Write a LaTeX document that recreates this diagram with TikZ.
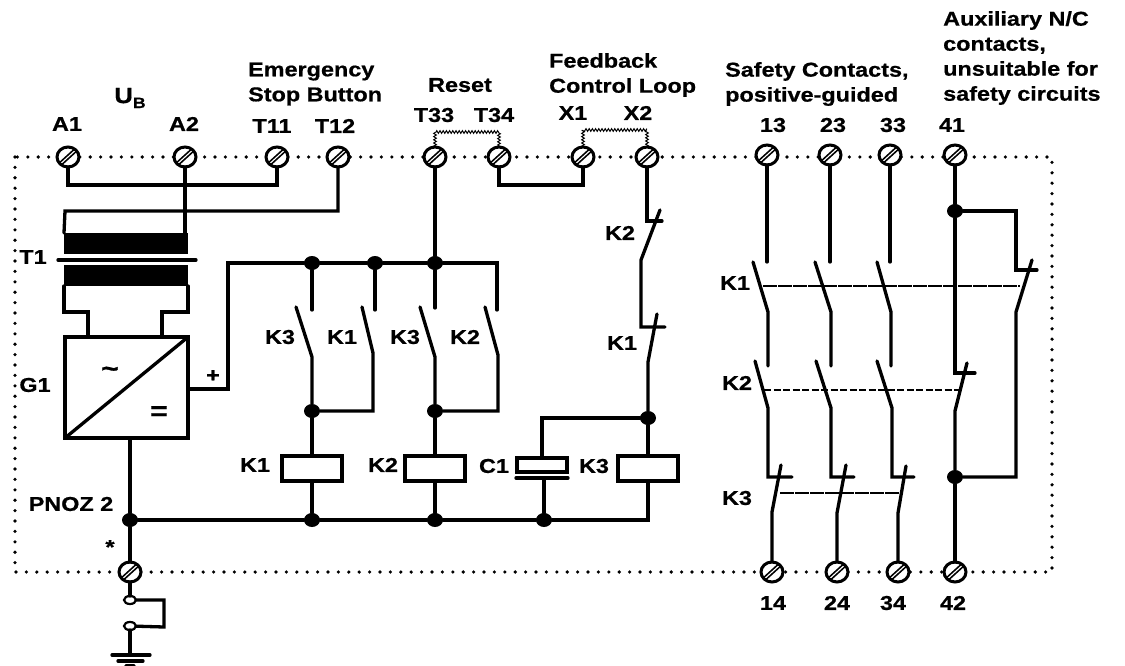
\documentclass[tikz,border=0pt]{standalone}
\usepackage{fontspec}
\setmainfont[FakeStretch=1.17,BoldFeatures={FakeBold=0.7}]{Liberation Sans}
\usepackage{tikz}
\usetikzlibrary{decorations.pathmorphing,shapes.geometric}
\tikzset{
    wire/.style={line width=3.3pt,line cap=round},
    terminal/.style={draw,
        ellipse,
        fill=white,
        line width=3pt,
        inner sep=0pt,
        outer sep=0pt,
        minimum width=22pt,
        minimum height=20pt,
        path picture={\draw[line width=1.7pt,double=white,double distance=1.1pt] (path picture bounding box.south west) -- (path picture bounding box.north east);}},
    junction/.style={ellipse,
        fill=black,
        inner sep=0pt,
        outer sep=0pt,
        minimum width=16pt,
        minimum height=14pt},
    eyelet/.style={draw,
        ellipse,
        line width=2.2pt,
        fill=white,
        inner sep=0pt,
        outer sep=0pt,
        minimum width=12pt,
        minimum height=8pt},
    coil/.style={draw,
        fill=white,
        line width=3.3pt,
        inner sep=0pt,
        outer sep=0pt,
        minimum width=60pt,
        minimum height=25pt},
    winding/.style={fill=black,
        inner sep=0pt,
        outer sep=0pt,
        minimum width=124pt,
        minimum height=21pt},
    lbl/.style={font=\bfseries\fontsize{20}{25}\selectfont,
        inner sep=0pt,
        align=left},
    border/.style={line width=3.6pt,
        line cap=round,
        dash pattern=on 0pt off 10.4pt},
    jumper/.style={line width=1pt,
        decorate,
        decoration={zigzag,amplitude=1.3pt,segment length=3.2pt}},
    link/.style={line width=1.2pt,dash pattern=on 14pt off 1pt},
    linkdash/.style={line width=1.8pt,dash pattern=on 7pt off 2.5pt}
}
\begin{document}
\begin{tikzpicture}[x=1pt,y=-1pt]
    \useasboundingbox (0,0) rectangle (1125,666);
    % Housing
    \draw [border] (15,157) rectangle (1052,572);
    % Top terminals
    \node [terminal] (A1) at (68,157) {};
    \node [terminal] (A2) at (185,157) {};
    \node [terminal] (T11) at (277,157) {};
    \node [terminal] (T12) at (338,157) {};
    \node [terminal] (T33) at (435,157) {};
    \node [terminal] (T34) at (499,157) {};
    \node [terminal] (X1) at (583,157) {};
    \node [terminal] (X2) at (647,157) {};
    \node [terminal] (t13) at (767,155) {};
    \node [terminal] (t23) at (830,155) {};
    \node [terminal] (t33) at (890,155) {};
    \node [terminal] (t41) at (955,155) {};
    % Bottom terminals
    \node [terminal] (PE) at (130,572) {};
    \node [terminal] (t14) at (772,572) {};
    \node [terminal] (t24) at (837,572) {};
    \node [terminal] (t34) at (898,572) {};
    \node [terminal] (t42) at (955,572) {};
    % Transformer
    \node [winding] (Tup) at (126,243.5) {};
    \node [winding] (Tlow) at (126,275.5) {};
    \coordinate (coreL) at (58,260);
    \coordinate (coreR) at (196,260);
    \draw [wire] (coreL) -- (coreR);
    % Rectifier
    \node [draw,
        fill=white,
        line width=3.3pt,
        inner sep=0pt,
        outer sep=0pt,
        minimum width=123pt,
        minimum height=101pt] (G1) at (126.5,387.5) {};
    \draw [wire] (G1.south west) -- (G1.north east);
    \node [font=\bfseries\fontsize{26}{26}\selectfont] (ac) at (110,372) {\char"7E};
    \node [font=\bfseries\fontsize{26}{26}\selectfont] (dc) at (159,413) {=};
    \node [lbl] (plus) at (213,376) {+};
    % Supply wires
    \draw [wire] (A1) |- (277,185) -- (T11);
    \draw [wire] (A2) -- (A2 |- Tup.north);
    \draw [wire] (T12) |- (65,211) -- (Tup.north west);
    \draw [wire] (Tlow.south west) -- ++(0,26) -| (88,337);
    \draw [wire] (Tlow.south east) -- ++(0,26) -| (162,337);
    % Bus junctions
    \node [junction] (j1) at (312,263) {};
    \node [junction] (j2) at (375,263) {};
    \node [junction] (j3) at (435,263) {};
    \node [junction] (j4) at (312,411) {};
    \node [junction] (j5) at (435,411) {};
    \node [junction] (j6) at (648,418) {};
    \node [junction] (j7) at (130,520) {};
    \node [junction] (j8) at (312,520) {};
    \node [junction] (j9) at (435,520) {};
    \node [junction] (j10) at (544,520) {};
    \coordinate (busEnd) at (497,263);
    \draw [wire] (G1.east |- 0,389) -| (228,263) -- (j1);
    \draw [wire] (j1) -- (j2);
    \draw [wire] (j2) -- (j3);
    \draw [wire] (j3) -- (busEnd) -- ++(0,47);
    \draw [wire] (T33) -- (j3);
    \draw [wire] (j1) -- ++(0,47);
    \draw [wire] (j2) -- ++(0,47);
    \draw [wire] (j3) -- ++(0,45);
    % Coils
    \node [coil] (K1) at (312,468.5) {};
    \node [coil] (K2) at (435,468.5) {};
    \node [coil] (K3) at (648,468.5) {};
    % Capacitor
    \node [draw,
        line width=3.3pt,
        inner sep=0pt,
        outer sep=0pt,
        minimum width=50pt,
        minimum height=14pt] (C1) at (542,465) {};
    \coordinate (plateL) at (516,478);
    \coordinate (plateR) at (568,478);
    \draw [wire] (plateL) -- (plateR);
    % Contacts in the control circuit
    \coordinate (a1) at (296,307);
    \coordinate (b1) at (312,357);
    \coordinate (a2) at (362,307);
    \coordinate (b2) at (373,353);
    \coordinate (a3) at (420,307);
    \coordinate (b3) at (435,357);
    \coordinate (a4) at (485,307);
    \coordinate (b4) at (498,355);
    \draw [wire] (a1) -- (b1) -- (j4);
    \draw [wire] (a2) -- (b2) |- (j4);
    \draw [wire] (a3) -- (b3) -- (j5);
    \draw [wire] (a4) -- (b4) |- (j5);
    \draw [wire] (j4) -- (K1.north);
    \draw [wire] (j5) -- (K2.north);
    \draw [wire] (K1.south) -- (j8);
    \draw [wire] (K2.south) -- (j9);
    % Bottom rail
    \draw [wire] (G1.south -| 130,0) -- (j7);
    \draw [wire] (j7) -- (j8);
    \draw [wire] (j8) -- (j9);
    \draw [wire] (j9) -- (j10);
    \draw [wire] (j10) -| (K3.south);
    \draw [wire] (plateL -| j10) -- (j10);
    \draw [wire] (j6) -- (K3.north);
    \draw [wire] (j6) -| (C1.north);
    % Feedback loop
    \coordinate (a5) at (660,210);
    \coordinate (b5) at (641,260);
    \coordinate (a6) at (657,314);
    \coordinate (b6) at (648,362);
    \draw [wire] (T34) |- (583,185) -- (X1);
    \draw [wire] (X2) |- (662,221);
    \draw [wire] (a5) -- (b5) |- (665,327);
    \draw [wire] (a6) -- (b6) -- (j6);
    % Links
    \draw [jumper] (T33) -- ++(0,-25) -| (T34);
    \draw [jumper] (X1) -- ++(0,-27) -| (X2);
    % Earth
    \node [eyelet] (e1) at (130,600) {};
    \node [eyelet] (e2) at (130,626) {};
    \coordinate (gnd) at (130,655);
    \draw [wire] (PE) -- (j7);
    \draw [wire] (PE) -- (e1);
    \draw [wire] (e1) -| (164,627) -- (e2);
    \draw [wire] (e2) -- (gnd);
    \draw [wire] (112,655) -- (150,655);
    \draw [wire] (118,661) -- (143,661);
    \draw [wire] (126,665.5) -- (134,665.5);
    % Safety contacts
    \coordinate (s1) at (753,262);
    \coordinate (p1) at (768,312);
    \coordinate (q1) at (768,366);
    \coordinate (s2) at (815,262);
    \coordinate (p2) at (831,312);
    \coordinate (q2) at (831,366);
    \coordinate (s3) at (877,262);
    \coordinate (p3) at (891,312);
    \coordinate (q3) at (891,366);
    \coordinate (u1) at (755,361);
    \coordinate (v1) at (768,408);
    \coordinate (u2) at (816,361);
    \coordinate (v2) at (831,408);
    \coordinate (u3) at (877,361);
    \coordinate (v3) at (892,408);
    \coordinate (w1) at (781,465);
    \coordinate (z1) at (772,512);
    \coordinate (w2) at (846,465);
    \coordinate (z2) at (837,513);
    \coordinate (w3) at (906,466);
    \coordinate (z3) at (898,513);
    \draw [wire] (t13) -- (767,262);
    \draw [wire] (t23) -- (830,262);
    \draw [wire] (t33) -- (890,262);
    \draw [wire] (s1) -- (p1) -- (q1);
    \draw [wire] (s2) -- (p2) -- (q2);
    \draw [wire] (s3) -- (p3) -- (q3);
    \draw [wire] (u1) -- (v1) |- (792,477);
    \draw [wire] (u2) -- (v2) |- (854,477);
    \draw [wire] (u3) -- (v3) |- (914,477);
    \draw [wire] (w1) -- (z1) -- (t14);
    \draw [wire] (w2) -- (z2) -- (t24);
    \draw [wire] (w3) -- (z3) -- (t34);
    % Auxiliary contacts
    \node [junction] (j11) at (955,211) {};
    \node [junction] (j12) at (955,477) {};
    \coordinate (m1) at (1032,260);
    \coordinate (n1) at (1016,312);
    \coordinate (m2) at (967,363);
    \coordinate (n2) at (955,411);
    \draw [wire] (t41) -- (j11);
    \draw [wire] (j11) |- (975,373);
    \draw [wire] (m2) -- (n2) -- (j12);
    \draw [wire] (j12) -- (t42);
    \draw [wire] (j11) -| (1016,270) -- (1037,270);
    \draw [wire] (m1) -- (n1) |- (j12);
    % Positive guidance
    \draw [link] (763,286) -- (1020,286);
    \draw [linkdash] (764,390) -- (960,390);
    \draw [link] (780,493) -- (900,493);
    % Terminal labels
    \node [lbl] (lA1) at (67,124) {A1};
    \node [lbl] (lA2) at (184,124) {A2};
    \node [lbl] (lT11) at (272,126) {T11};
    \node [lbl] (lT12) at (335,126) {T12};
    \node [lbl] (lT33) at (434,115) {T33};
    \node [lbl] (lT34) at (494,115) {T34};
    \node [lbl] (lX1) at (573,113) {X1};
    \node [lbl] (lX2) at (638,113) {X2};
    \node [lbl] (l13) at (773,125) {13};
    \node [lbl] (l23) at (833,125) {23};
    \node [lbl] (l33) at (893,125) {33};
    \node [lbl] (l41) at (952,125) {41};
    \node [lbl] (l14) at (773,603) {14};
    \node [lbl] (l24) at (837,603) {24};
    \node [lbl] (l34) at (893,603) {34};
    \node [lbl] (l42) at (953,603) {42};
    % Group labels
    \node [lbl] (lUB) at (130,98) {\fontsize{22}{22}\selectfont U\raisebox{-5pt}{\fontsize{15}{15}\selectfont B}};
    \node [lbl,anchor=west] (lStop) at (248,84) {Emergency\\Stop Button};
    \node [lbl] (lReset) at (460,85) {Reset};
    \node [lbl,anchor=west] (lLoop) at (549,75) {Feedback\\Control Loop};
    \node [lbl,anchor=west] (lSafe) at (725,84) {Safety Contacts,\\positive-guided};
    \node [lbl,anchor=west] (lAux) at (943,58) {Auxiliary N/C\\contacts,\\unsuitable for\\safety circuits};
    % Part labels
    \node [lbl] (lT1) at (33,257) {T1};
    \node [lbl] (lG1) at (35,385) {G1};
    \node [lbl] (lPNOZ) at (71,504) {PNOZ 2};
    \node [lbl] (lStar) at (110,547) {*};
    \node [lbl] (c1) at (280,337) {K3};
    \node [lbl] (c2) at (342,337) {K1};
    \node [lbl] (c3) at (405,337) {K3};
    \node [lbl] (c4) at (465,337) {K2};
    \node [lbl] (c5) at (620,233) {K2};
    \node [lbl] (c6) at (622,343) {K1};
    \node [lbl] (c7) at (255,465) {K1};
    \node [lbl] (c8) at (383,465) {K2};
    \node [lbl] (c9) at (494,466) {C1};
    \node [lbl] (c10) at (594,466) {K3};
    \node [lbl] (c11) at (735,283) {K1};
    \node [lbl] (c12) at (737,383) {K2};
    \node [lbl] (c13) at (737,498) {K3};
\end{tikzpicture}
\end{document}
